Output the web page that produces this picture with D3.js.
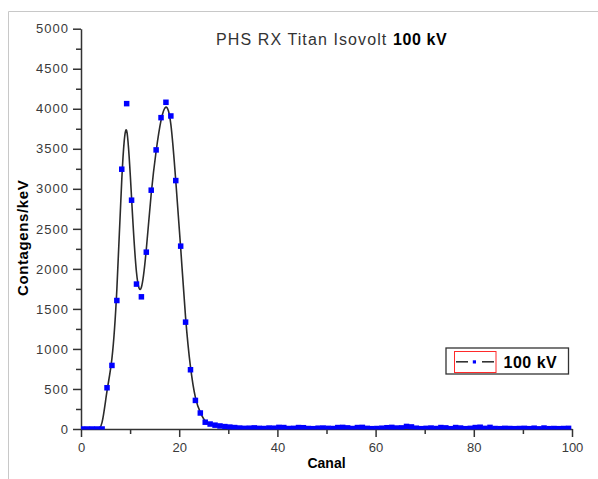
<!DOCTYPE html>
<html>
<head>
<meta charset="utf-8">
<script src="https://cdn.jsdelivr.net/npm/d3@7"></script>
<style>
  body { margin: 0; background: #fff; overflow: hidden; }
  svg { display: block; font-family: Arial, 'Liberation Sans', sans-serif; }
</style>
</head>
<body>
<div id="chart"></div>
<script>
// Canal (x) of each measured point
const canal = [
  0.3, 1.3, 2.3, 3.3, 4.3, 5.3, 6.3, 7.3, 8.3, 9.3,
  10.3, 11.3, 12.3, 13.3, 14.3, 15.3, 16.3, 17.3, 18.3, 19.3,
  20.3, 21.3, 22.3, 23.3, 24.3, 25.3, 26.3, 27.3, 28.3, 29.3,
  30.3, 31.3, 32.3, 33.3, 34.3, 35.3, 36.3, 37.3, 38.3, 39.3,
  40.3, 41.3, 42.3, 43.3, 44.3, 45.3, 46.3, 47.3, 48.3, 49.3,
  50.3, 51.3, 52.3, 53.3, 54.3, 55.3, 56.3, 57.3, 58.3, 59.3,
  60.3, 61.3, 62.3, 63.3, 64.3, 65.3, 66.3, 67.3, 68.3, 69.3,
  70.3, 71.3, 72.3, 73.3, 74.3, 75.3, 76.3, 77.3, 78.3, 79.3,
  80.3, 81.3, 82.3, 83.3, 84.3, 85.3, 86.3, 87.3, 88.3, 89.3,
  90.3, 91.3, 92.3, 93.3, 94.3, 95.3, 96.3, 97.3, 98.3, 99.3
]

// Contagens/keV for the 100 kV series
const contagens = [
  0, 0, 0, 0, 0, 515, 794, 1605, 3245, 4064,
  2858, 1810, 1651, 2209, 2983, 3486, 3889, 4081, 3910, 3103,
  2284, 1335, 740, 357, 200, 85, 62, 48, 38, 30,
  24, 18, 12, 8, 10, 14, 8, 6, 12, 10,
  20, 18, 6, 8, 18, 16, 6, 4, 10, 12,
  8, 6, 18, 20, 14, 6, 18, 20, 8, 4,
  6, 10, 16, 20, 12, 14, 32, 26, 10, 4,
  8, 12, 6, 18, 14, 4, 18, 12, 4, 8,
  18, 22, 8, 20, 6, 4, 8, 6, 4, 6,
  8, 4, 10, 2, 12, 4, 6, 4, 6, 8
]

const xMajor = [0, 20, 40, 60, 80, 100]
const xMinor = [10, 30, 50, 70, 90]
const yMajor = [0, 500, 1000, 1500, 2000, 2500, 3000, 3500, 4000, 4500, 5000]
const yMinor = [250, 750, 1250, 1750, 2250, 2750, 3250, 3750, 4250, 4750]

const titleText = 'PHS RX Titan Isovolt'
const titleBold = '100 kV'
const seriesName = '100 kV'
const xTitle = 'Canal'
const yTitle = 'Contagens/keV'

const width = 598
const height = 479
const margin = { top: 28.7, right: 26, bottom: 50, left: 81 }
const innerWidth = width - margin.left - margin.right
const innerHeight = height - margin.top - margin.bottom

const data = canal.map((c, i) => [c, contagens[i]])

const svg = d3.select('#chart').append('svg')
  .attr('width', width)
  .attr('height', height)

// light frame of the graph page
svg.append('path')
  .attr('d', 'M8.5,479V11.5H598')
  .attr('fill', 'none')
  .attr('stroke', '#c8c8c8')
  .attr('stroke-width', 1)

const g = svg.append('g')
  .attr('transform', 'translate(' + margin.left + ',' + margin.top + ')')

const xScale = d3.scaleLinear().domain([0, 100]).range([0, innerWidth])
const yScale = d3.scaleLinear().domain([0, 5000]).range([innerHeight, 0])

svg.append('clipPath').attr('id', 'plotClip')
  .append('rect')
  .attr('x', 0).attr('y', 0)
  .attr('width', innerWidth).attr('height', innerHeight + 0.5)

// axes: major ticks labelled, minor ticks bare
function styleAxis (sel) {
  sel.select('.domain').attr('stroke', '#333').attr('stroke-width', 1.5)
  sel.selectAll('.tick line').attr('stroke', '#333').attr('stroke-width', 1.5)
  sel.selectAll('.tick text')
    .attr('fill', '#3a3a3a')
    .style('font-size', '13px')
}

const xAxis = g.append('g')
  .attr('transform', 'translate(0,' + innerHeight + ')')
  .call(d3.axisBottom(xScale).tickValues(xMajor).tickSize(8).tickPadding(6).tickSizeOuter(0).tickFormat(d3.format('d')))
xAxis.call(styleAxis)

const xMinorAxis = g.append('g')
  .attr('transform', 'translate(0,' + innerHeight + ')')
  .call(d3.axisBottom(xScale).tickValues(xMinor).tickSize(5).tickSizeOuter(0))
  .call(styleAxis)
xMinorAxis.select('.domain').remove()
xMinorAxis.selectAll('.tick text').remove()

const yAxis = g.append('g')
  .call(d3.axisLeft(yScale).tickValues(yMajor).tickSize(8).tickPadding(4).tickSizeOuter(0).tickFormat(d3.format('d')))
yAxis.call(styleAxis)
yAxis.selectAll('.tick text').style('letter-spacing', '1px')

const yMinorAxis = g.append('g')
  .call(d3.axisLeft(yScale).tickValues(yMinor).tickSize(5).tickSizeOuter(0))
  .call(styleAxis)
yMinorAxis.select('.domain').remove()
yMinorAxis.selectAll('.tick text').remove()

// B-spline connection, as in the original plot
const line = d3.line()
  .x(d => xScale(d[0]))
  .y(d => yScale(d[1]))
  .curve(d3.curveBasis)

g.append('path')
  .datum(data)
  .attr('clip-path', 'url(#plotClip)')
  .attr('fill', 'none')
  .attr('stroke', '#2b2b2b')
  .attr('stroke-width', 1.6)
  .attr('d', line)

const ms = 5.5
g.append('g').attr('clip-path', 'url(#plotClip)')
  .selectAll('rect.pt')
  .data(data)
  .enter().append('rect')
  .attr('class', 'pt')
  .attr('x', d => xScale(d[0]) - ms / 2)
  .attr('y', d => yScale(d[1]) - ms / 2)
  .attr('width', ms)
  .attr('height', ms)
  .attr('fill', '#0000ff')

// title
const title = svg.append('text')
  .attr('x', 216)
  .attr('y', 44.5)
  .style('font-size', '16px')
title.append('tspan')
  .attr('fill', '#333')
  .style('letter-spacing', '1.1px')
  .text(titleText + ' ')
title.append('tspan')
  .attr('fill', '#000')
  .style('font-weight', 'bold')
  .style('letter-spacing', '0.6px')
  .text(titleBold)

// axis titles
svg.append('text')
  .attr('x', margin.left + innerWidth / 2)
  .attr('y', 467.5)
  .attr('text-anchor', 'middle')
  .style('font-size', '14px')
  .style('font-weight', 'bold')
  .text(xTitle)

svg.append('text')
  .attr('transform', 'translate(28,' + (margin.top + innerHeight / 2 + 9) + ') rotate(-90)')
  .attr('text-anchor', 'middle')
  .style('font-size', '15px')
  .style('font-weight', 'bold')
  .style('letter-spacing', '0.6px')
  .text(yTitle)

// legend
const legend = svg.append('g').attr('transform', 'translate(446,348)')
legend.append('rect')
  .attr('width', 122.5).attr('height', 26)
  .attr('fill', '#fff').attr('stroke', '#333').attr('stroke-width', 1.3)
legend.append('line')
  .attr('x1', 10).attr('x2', 22).attr('y1', 13.8).attr('y2', 13.8)
  .attr('stroke', '#333').attr('stroke-width', 1.6)
legend.append('line')
  .attr('x1', 36).attr('x2', 48).attr('y1', 13.8).attr('y2', 13.8)
  .attr('stroke', '#333').attr('stroke-width', 1.6)
legend.append('rect')
  .attr('x', 26.8).attr('y', 12.3).attr('width', 3.2).attr('height', 3.2)
  .attr('fill', '#0000ff')
legend.append('rect')
  .attr('x', 8.5).attr('y', 3.5).attr('width', 41.5).attr('height', 21)
  .attr('fill', 'none').attr('stroke', '#ff2a2a').attr('stroke-width', 1)
legend.append('text')
  .attr('x', 57.5).attr('y', 19.5)
  .style('font-size', '16px')
  .style('font-weight', 'bold')
  .style('letter-spacing', '0.5px')
  .text(seriesName)
</script>
</body>
</html>
